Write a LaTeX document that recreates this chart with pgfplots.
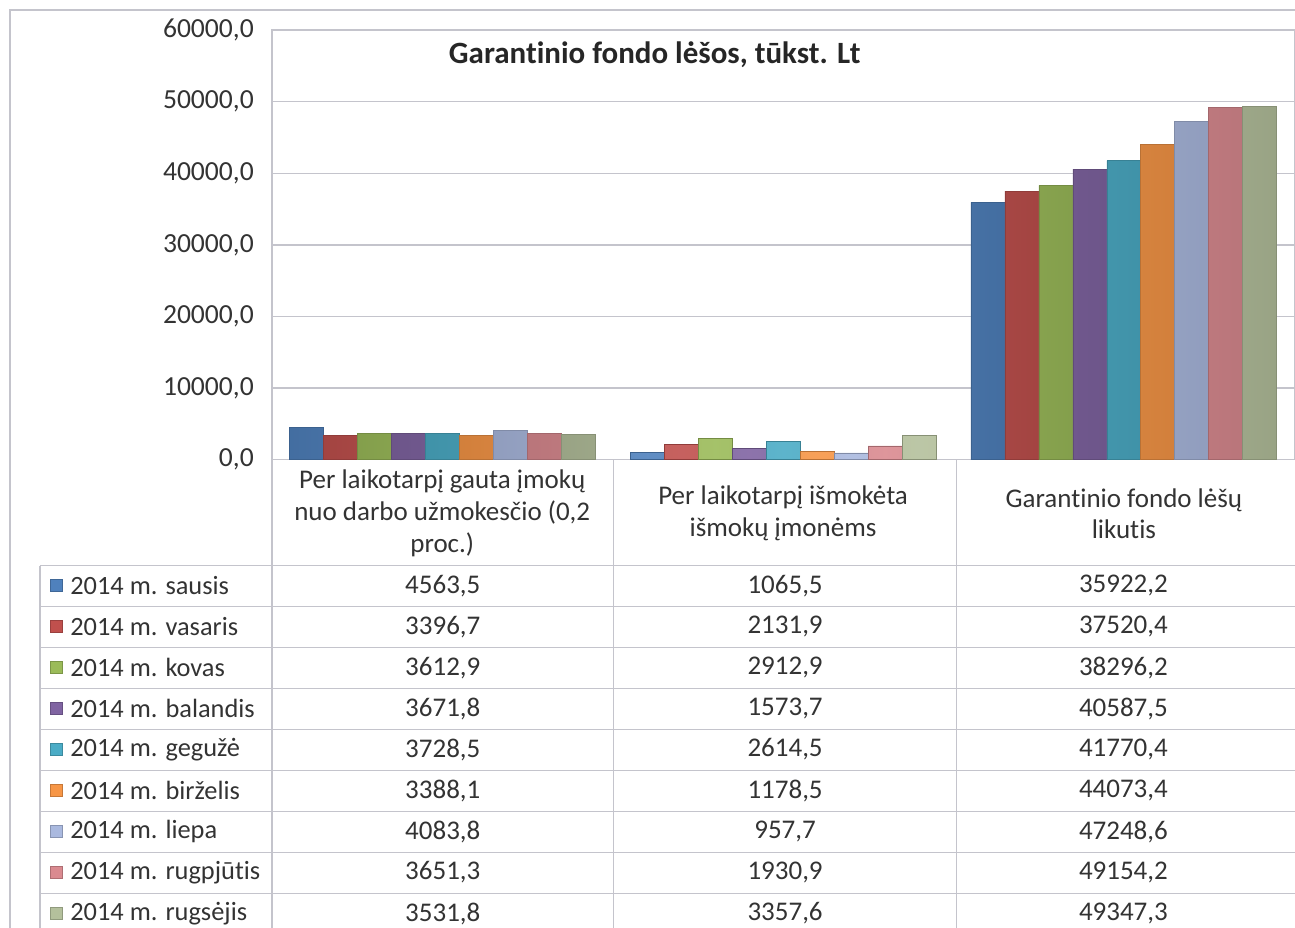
\documentclass[border=0pt]{standalone}
\usepackage{pgfplots}
\usepackage{pgfplotstable}
\pgfplotsset{compat=1.18}
\usepackage{fontspec}
\setmainfont{Carlito}[Ligatures=NoCommon]

\definecolor{cA}{HTML}{4F81BD}
\definecolor{cB}{HTML}{C0504D}
\definecolor{cC}{HTML}{9BBB59}
\definecolor{cD}{HTML}{8064A2}
\definecolor{cE}{HTML}{4BACC6}
\definecolor{cF}{HTML}{F79646}
\definecolor{cG}{HTML}{AAB9DF}
\definecolor{cH}{HTML}{DA8A90}
\definecolor{cI}{HTML}{B4C09C}
\definecolor{gridc}{HTML}{C4C4CC}

\pgfplotstableread{
cat s1 s2 s3 s4 s5 s6 s7 s8 s9
0 4563.5 3396.7 3612.9 3671.8 3728.5 3388.1 4083.8 3651.3 3531.8
1 1065.5 2131.9 2912.9 1573.7 2614.5 1178.5 957.7 1930.9 3357.6
2 35922.2 37520.4 38296.2 40587.5 41770.4 44073.4 47248.6 49154.2 49347.3
}\datatable

\tikzset{barsty/.style={draw=#1!75!black, line width=0.4pt,
  left color=#1!85!black, right color=#1!85!black, middle color=#1!90!white}}

\begin{document}
\begin{tikzpicture}
\begin{axis}[
  at={(136pt,-230pt)}, anchor=south west,
  scale only axis, width=511.5pt, height=215pt,
  xmin=-0.5, xmax=2.5, ymin=0, ymax=60000,
  ybar=0pt, bar width=17pt,
  xtick={0,1,2},
  xticklabels={{Per laikotarpį gauta įmokų\\nuo darbo užmokesčio (0,2\\proc.)},
               {Per laikotarpį išmokėta\\išmokų įmonėms},
               {Garantinio fondo lėšų\\likutis}},
  xticklabel style={anchor=center, yshift=-27pt, align=center,
     font=\fontsize{13.5}{16}\selectfont, text=black!80},
  ytick={0,10000,...,60000},
  scaled y ticks=false,
  yticklabel={\pgfmathprintnumber[fixed,fixed zerofill,precision=1,use comma,1000 sep={}]{\tick}},
  yticklabel style={font=\fontsize{13.8}{16}\selectfont, xshift=-5.5pt, text=black!80},
  /pgf/number format/assume math mode=true,
  major tick length=0pt,
  ymajorgrids, grid style={gridc, line width=0.7pt},
  axis line style={gridc, line width=0.7pt},
  clip=false,
]
\addplot[barsty=cA] table[x=cat,y=s1]{\datatable};
\addplot[barsty=cB] table[x=cat,y=s2]{\datatable};
\addplot[barsty=cC] table[x=cat,y=s3]{\datatable};
\addplot[barsty=cD] table[x=cat,y=s4]{\datatable};
\addplot[barsty=cE] table[x=cat,y=s5]{\datatable};
\addplot[barsty=cF] table[x=cat,y=s6]{\datatable};
\addplot[barsty=cG] table[x=cat,y=s7]{\datatable};
\addplot[barsty=cH] table[x=cat,y=s8]{\datatable};
\addplot[barsty=cI] table[x=cat,y=s9]{\datatable};
\end{axis}
\begin{scope}[x=0.5pt,y=-0.5pt]
\path[use as bounding box] (0,0) rectangle (1295,928);
\draw[gridc, line width=0.8pt] (10,940) -- (10,10) -- (1300,10);
\node[font=\bfseries\fontsize{15.5}{18}\selectfont, text=black!85] at (655,55) {Garantinio fondo lėšos, tūkst. Lt};
\foreach \i in {0,...,9} {
  \draw[gridc, line width=0.7pt] (40,566+41*\i) -- (1300,566+41*\i);
}
\draw[gridc, line width=0.7pt] (40,566) -- (40,940);
\draw[gridc, line width=0.7pt] (272,460) -- (272,940);
\draw[gridc, line width=0.7pt] (614,460) -- (614,940);
\draw[gridc, line width=0.7pt] (957,460) -- (957,940);
\foreach \i/\c/\m/\a/\b/\d in {
  {0/cA/sausis/4563,5/1065,5/35922,2},
  {1/cB/vasaris/3396,7/2131,9/37520,4},
  {2/cC/kovas/3612,9/2912,9/38296,2},
  {3/cD/balandis/3671,8/1573,7/40587,5},
  {4/cE/gegužė/3728,5/2614,5/41770,4},
  {5/cF/birželis/3388,1/1178,5/44073,4},
  {6/cG/liepa/4083,8/957,7/47248,6},
  {7/cH/rugpjūtis/3651,3/1930,9/49154,2},
  {8/cI/rugsėjis/3531,8/3357,6/49347,3}} {
  \pgfmathsetmacro{\yc}{586+41*\i}
  \fill[\c, draw=\c!80!black, line width=0.3pt] (50,\yc-6) rectangle (62,\yc+6);
  \node[anchor=west, font=\fontsize{13.2}{16}\selectfont, text=black!80, inner sep=0pt] at (70,\yc) {2014 m. \m};
  \node[font=\fontsize{13.5}{16}\selectfont, text=black!80] at (443,\yc) {\a};
  \node[font=\fontsize{13.5}{16}\selectfont, text=black!80] at (785.5,\yc) {\b};
  \node[font=\fontsize{13.5}{16}\selectfont, text=black!80] at (1124,\yc) {\d};
}
\end{scope}
\end{tikzpicture}
\end{document}
